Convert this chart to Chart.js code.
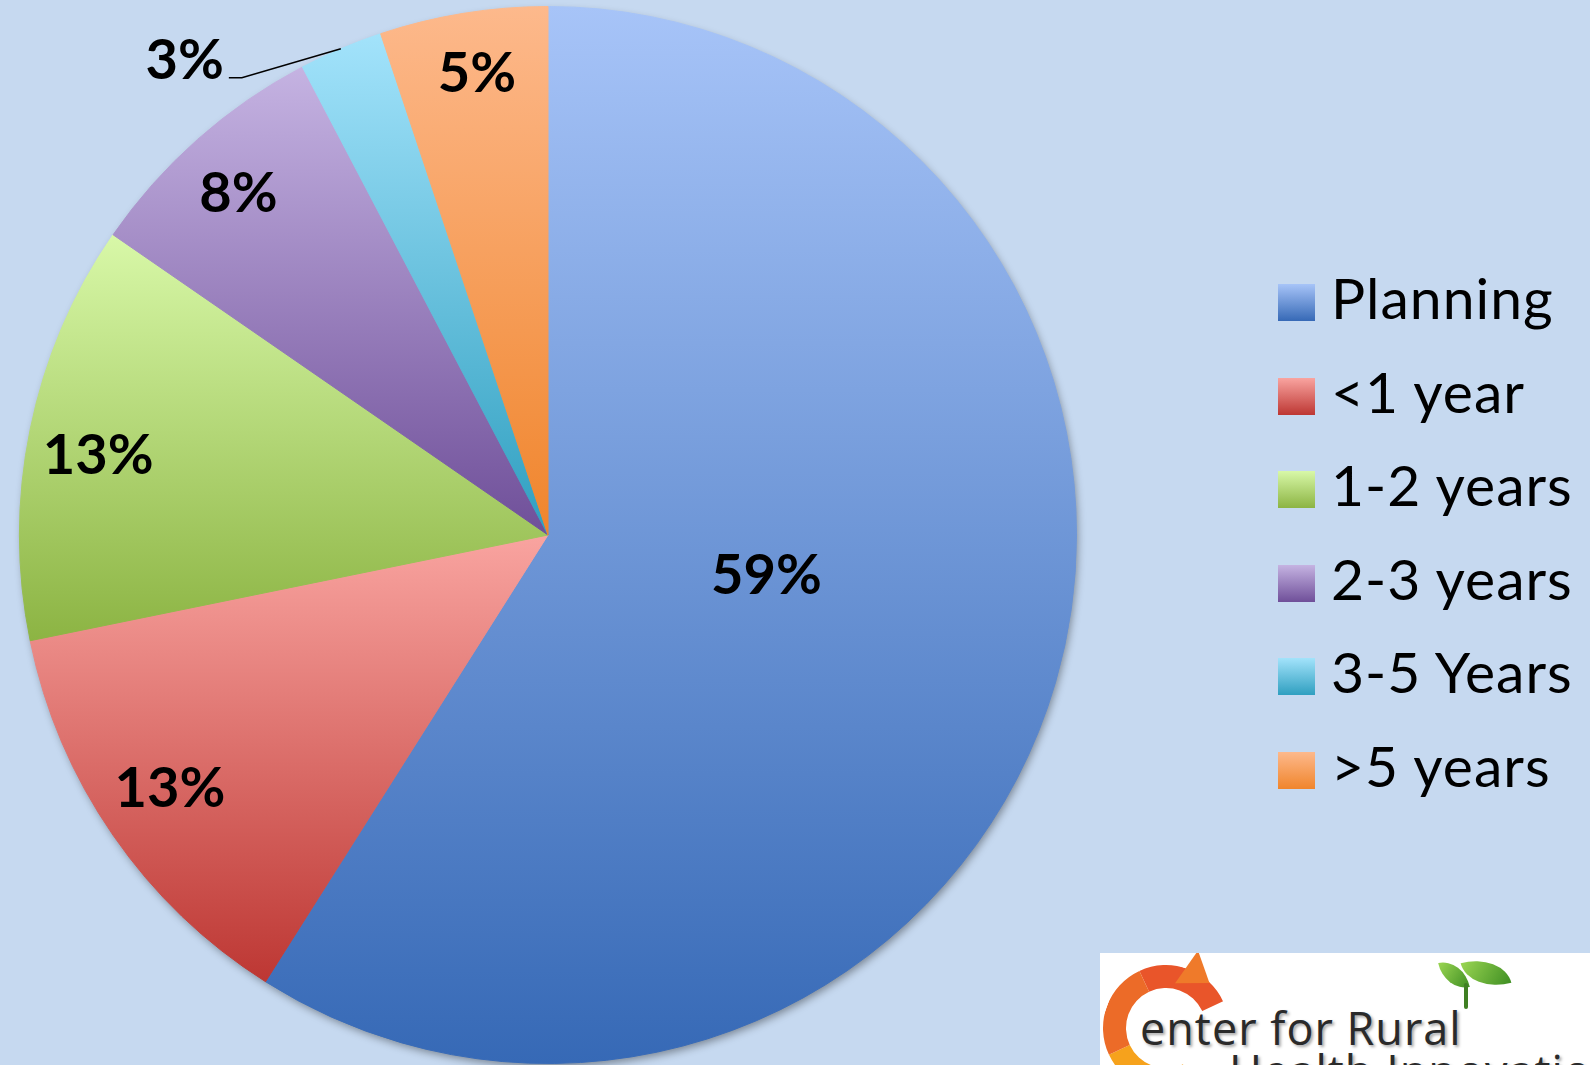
<!DOCTYPE html>
<html>
<head>
<meta charset="utf-8">
<script src="https://cdn.jsdelivr.net/npm/chart.js@4.4.1/dist/chart.umd.min.js"></script>
<style>
html,body{margin:0;padding:0;background:#c6d9f0;width:1590px;height:1065px;overflow:hidden;font-family:Lato,'Open Sans',sans-serif}
#pie{position:absolute;left:0;top:0}
#legend{position:absolute;left:1278px;top:284px}
.li{position:absolute;left:0;height:37px;white-space:nowrap}
.li i{position:absolute;left:0;top:0;width:37px;height:37px}
.li span{position:absolute;left:53px;top:-15px;font-size:57px;line-height:57px;color:#000;letter-spacing:1px}
#logo{position:absolute;left:1100px;top:953px;width:490px;height:112px;background:#fff;overflow:hidden}
#logo .ring{position:absolute;left:3px;top:12px;width:80px;height:80px;border-radius:50%;border:23px solid;border-color:#e9552a transparent #f6a21c #ec6b28;transform:rotate(20deg)}
#logo .tip{position:absolute;left:84px;top:2px;width:0;height:0;border-top:20px solid transparent;border-bottom:20px solid transparent;border-left:28px solid #ef7a2a;transform:rotate(35deg)}
#logo .t1,#logo .t2{position:absolute;white-space:nowrap;font:45px 'Open Sans',sans-serif;line-height:normal;color:#2a2a2a;text-shadow:2px 2px 3px rgba(0,0,0,.35);letter-spacing:1px}
#logo .t1{left:40px;top:44px}
#logo .t2{left:129px;top:87px}
#logo .leaf{position:absolute;border-radius:0 100% 0 100%;background:linear-gradient(135deg,#9ad552,#3f8f23)}
#logo .stem{position:absolute;left:364px;top:30px;width:4px;height:26px;background:#3f7f23;border-radius:2px}
</style>
</head>
<body>
<canvas id="pie" width="1590" height="1065"></canvas>
<div id="legend"></div>
<div id="logo">
  <div class="ring"></div><div class="tip"></div>
  <div class="leaf" style="left:341px;top:7px;width:26px;height:30px;transform:rotate(-12deg)"></div>
  <div class="leaf" style="left:364px;top:4px;width:44px;height:32px;transform:rotate(-15deg)"></div>
  <div class="stem"></div>
  <div class="t1">enter for Rural</div>
  <div class="t2">Health Innovation</div>
</div>
<script>
// Years in telehealth — survey shares
const labels = ['Planning', '<1 year', '1-2 years', '2-3 years', '3-5 Years', '>5 years'];
const counts = [46, 10, 10, 6, 2, 4];
const pctText = ['59%', '13%', '13%', '8%', '3%', '5%'];
const topCols = ['#a7c4f8', '#f9a4a0', '#d8f8a8', '#c5b3e2', '#a3e3fb', '#fdb98c'];
const botCols = ['#3669b6', '#bd3733', '#8cb443', '#6f4f99', '#2f9fc0', '#f0852c'];

// label placement: fraction of radius, small turn (deg); slice 4 sits outside with a leader line
const labelR = [0.42, 0.86, 0.865, 0.875, 1, 0.887];
const labelTurn = [-6, 0.9, -1.3, -0.5, 0, 0.5];

function sliceBox(ch, i) {
  const a = ch.chartArea;
  const cx = (a.left + a.right) / 2, cy = (a.top + a.bottom) / 2;
  const r = Math.min(a.right - a.left, a.bottom - a.top) / 2;
  const tot = counts.reduce((s, v) => s + v, 0);
  let s = 0; for (let k = 0; k < i; k++) s += counts[k];
  const a0 = -Math.PI / 2 + s / tot * 2 * Math.PI, a1 = a0 + counts[i] / tot * 2 * Math.PI;
  const ys = [cy, cy + r * Math.sin(a0), cy + r * Math.sin(a1)];
  if (a0 <= Math.PI / 2 && a1 >= Math.PI / 2) ys.push(cy + r);
  if (a0 <= -Math.PI / 2 + 1e-9 || a1 >= 3 * Math.PI / 2 - 1e-9) ys.push(cy - r);
  return { y0: Math.min(...ys), y1: Math.max(...ys) };
}

function sliceFill(c) {
  const ch = c.chart, i = c.dataIndex;
  if (i === undefined) return topCols[0];
  if (!ch.chartArea) return topCols[i];
  const b = sliceBox(ch, i);
  const g = ch.ctx.createLinearGradient(0, b.y0, 0, b.y1);
  g.addColorStop(0, topCols[i]); g.addColorStop(1, botCols[i]);
  return g;
}

const pieShadow = {
  id: 'pieShadow',
  beforeDatasetsDraw(ch) {
    const el = ch.getDatasetMeta(0).data[0];
    if (!el) return;
    const { x, y, outerRadius } = el.getProps(['x', 'y', 'outerRadius'], true);
    const ctx = ch.ctx;
    ctx.save();
    ctx.shadowColor = 'rgba(0,0,0,0.4)'; ctx.shadowBlur = 9; ctx.shadowOffsetX = 2; ctx.shadowOffsetY = 4;
    ctx.fillStyle = '#8aa9d8';
    ctx.beginPath(); ctx.arc(x, y, outerRadius - 1, 0, Math.PI * 2); ctx.fill();
    ctx.restore();
  }
};

const pctLabels = {
  id: 'pctLabels',
  afterDatasetsDraw(ch) {
    const ctx = ch.ctx;
    ctx.save();
    ctx.font = 'bold 56px Lato';
    ctx.fillStyle = '#000';
    ctx.textBaseline = 'alphabetic';
    ch.getDatasetMeta(0).data.forEach((arc, i) => {
      const p = arc.getProps(['x', 'y', 'startAngle', 'endAngle', 'outerRadius'], true);
      const mid = (p.startAngle + p.endAngle) / 2 + labelTurn[i] * Math.PI / 180;
      if (i === 4) {
        // outside label with leader line
        const ex = p.x + p.outerRadius * Math.cos(mid), ey = p.y + p.outerRadius * Math.sin(mid);
        const kx = ex - 99, ky = ey + 29;
        ctx.strokeStyle = '#000'; ctx.lineWidth = 1.5;
        ctx.beginPath(); ctx.moveTo(ex, ey); ctx.lineTo(kx, ky); ctx.lineTo(kx - 13, ky); ctx.stroke();
        ctx.textAlign = 'right';
        ctx.fillText(pctText[i], kx - 18, ky + 1);
        return;
      }
      const r = p.outerRadius * labelR[i];
      const lx = p.x + r * Math.cos(mid), ly = p.y + r * Math.sin(mid);
      ctx.textAlign = 'center';
      ctx.fillText(pctText[i], lx, ly + 20);
    });
    ctx.restore();
  }
};

new Chart(document.getElementById('pie'), {
  type: 'pie',
  data: { labels, datasets: [{ data: counts, backgroundColor: c => sliceFill(c), borderColor: c => sliceFill(c), borderWidth: 1 }] },
  options: {
    responsive: false, animation: false, events: [],
    layout: { padding: { left: 19, top: 6, right: 513, bottom: 1 } },
    plugins: { legend: { display: false }, tooltip: { enabled: false } }
  },
  plugins: [pieShadow, pctLabels]
});

// legend
document.getElementById('legend').innerHTML = labels.map((l, i) =>
  `<div class="li" style="top:${(i * 93.6).toFixed(1)}px"><i style="background:linear-gradient(${topCols[i]},${botCols[i]})"></i><span>${l.replace('<', '&lt;').replace('>', '&gt;')}</span></div>`
).join('');
</script>
</body>
</html>
